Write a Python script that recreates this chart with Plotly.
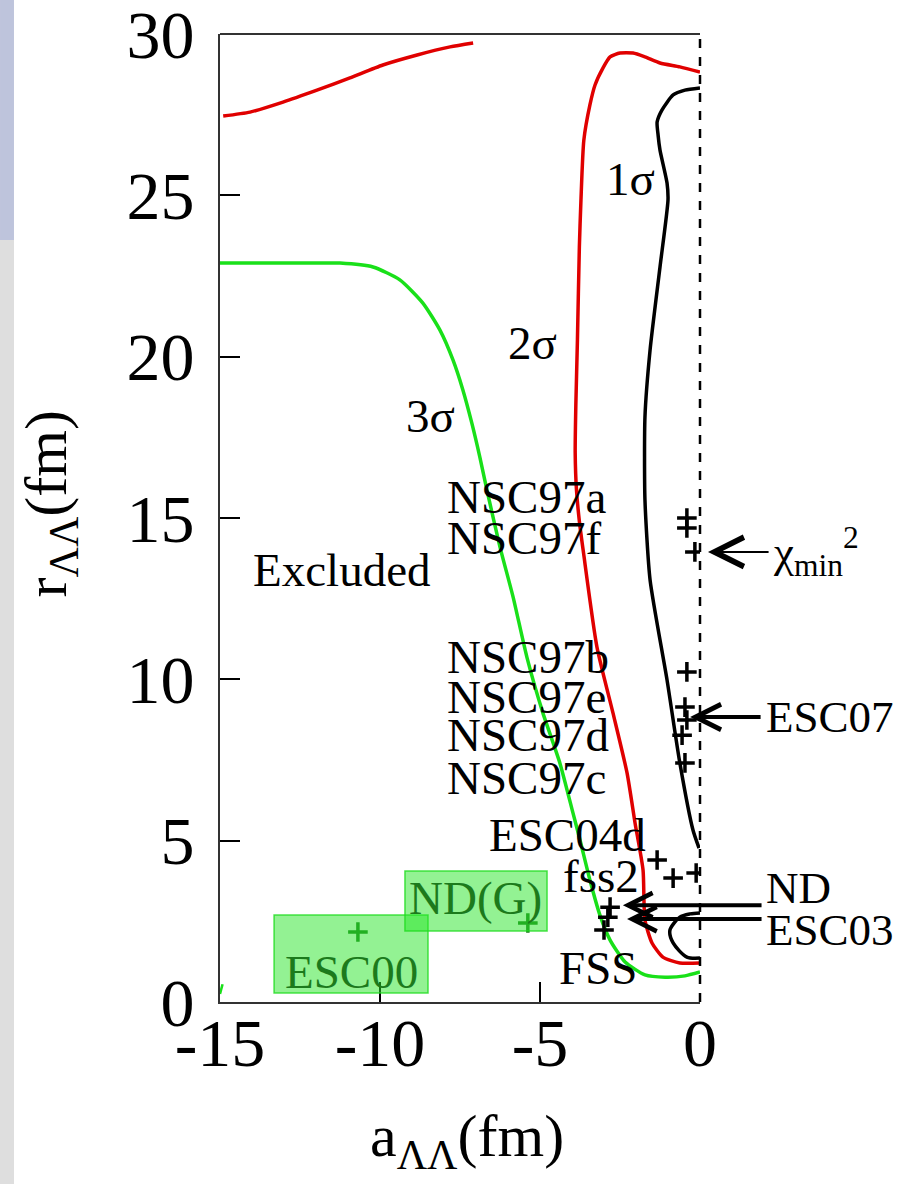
import plotly.graph_objects as go

FONT = "Liberation Serif, Times New Roman, serif"

# ---- contour lines in the (a, r) plane ----
# 3 sigma (green)
sig3_a = [-15.0, -13.75, -12.5, -11.25, -10.22, -9.38, -8.66, -8.13, -7.72, -7.41,
          -7.13, -6.88, -6.66, -6.25, -5.84, -5.41, -4.91, -4.38, -3.97, -3.75,
          -3.44, -3.13, -2.81, -2.34, -1.72, -1.09, -0.47, 0.0]
sig3_r = [22.90, 22.90, 22.90, 22.90, 22.78, 22.38, 21.66, 20.83, 19.90, 18.97,
          17.94, 16.89, 15.87, 14.10, 12.55, 10.69, 8.96, 7.41, 5.86, 5.02,
          3.78, 2.70, 1.92, 1.24, 0.84, 0.77, 0.81, 0.93]
sig3_edge_a = [-15.0, -14.92]
sig3_edge_r = [0.25, 0.55]

# 2 sigma (red)
sig2_top_a = [-14.9, -14.06, -13.03, -11.97, -10.94, -9.91, -8.84, -7.81, -7.09]
sig2_top_r = [27.46, 27.58, 27.89, 28.26, 28.64, 29.04, 29.35, 29.60, 29.72]
sig2_a = [0.0, -0.63, -1.25, -1.72, -2.09, -2.5, -2.81, -3.03, -3.28, -3.44,
          -3.63, -3.72, -3.77, -3.83, -3.88, -3.90, -3.86, -3.77, -3.64, -3.22,
          -2.72, -2.28, -2.03, -1.78, -1.72, -1.5, -1.16, -0.63, 0.0]
sig2_r = [28.82, 28.98, 29.10, 29.29, 29.41, 29.41, 29.29, 28.95, 28.42, 27.80,
          26.71, 24.86, 23.40, 20.52, 18.50, 17.00, 15.87, 14.90, 13.92, 11.00,
          8.96, 7.10, 5.55, 4.09, 2.54, 1.83, 1.39, 1.21, 1.21]

# 1 sigma (black)
sig1_a = [0.0, -0.47, -0.84, -1.19, -1.34, -1.31, -1.25, -1.03, -1.0, -1.25,
          -1.56, -1.72, -1.72, -1.56, -1.03, -0.63, -0.22, -0.03]
sig1_r = [28.33, 28.26, 28.11, 27.64, 27.27, 26.87, 26.40, 25.38, 24.86, 22.78,
          20.21, 18.13, 15.56, 13.08, 9.98, 7.41, 5.33, 4.77]
sig1_loop_a = [0.0, -0.31, -0.63, -0.94, -0.84, -0.41, 0.0]
sig1_loop_r = [2.76, 2.73, 2.63, 2.23, 1.83, 1.39, 1.36]

# ---- model predictions (a, r) ----
model_a = [-0.41, -0.41, -0.16, -0.41, -0.47, -0.41, -0.56, -0.47,
           -1.34, -0.84, -0.12, -2.81, -2.88, -3.0]
model_r = [15.00, 14.69, 13.95, 10.23, 9.14, 8.74, 8.27, 7.41,
           4.40, 3.84, 4.00, 2.94, 2.63, 2.23]
shaded_a = [-5.38, -10.69]
shaded_r = [2.45, 2.17]

# ---- text labels inside the frame ----
label_text = ["1σ", "2σ", "3σ", "NSC97a", "NSC97f", "Excluded", "NSC97b", "NSC97e",
              "NSC97d", "NSC97c", "ESC04d", "fss2", "FSS"]
label_a = [-2.16, -5.22, -8.41, -7.97, -7.97, -14.03, -7.97, -7.97,
           -7.97, -7.97, -6.66, -4.34, -4.47]
label_r = [25.5, 20.42, 18.16, 15.65, 14.38, 13.39, 10.69, 9.45,
           8.27, 6.94, 5.18, 3.90, 1.05]
label_anchor = ["center", "center", "center", "left", "left", "left", "left", "left",
                "left", "left", "left", "left", "left"]

# labels to the right of the frame
side_text = ["ND", "ESC03", "ESC07", "χ<sub>min</sub><sup>2</sup>"]
side_a = [2.0, 2.0, 2.0, 2.22]
side_r = [3.53, 2.23, 8.83, 13.95]

# shaded tags: text position and box extents
tag_text = ["ESC00", "ND(G)"]
tag_a = [-10.9, -7.03]
tag_r = [0.93, 3.22]
box_a0 = [-13.31, -9.22]
box_a1 = [-8.5, -4.78]
box_r0 = [0.28, 2.20]
box_r1 = [2.70, 4.06]

# arrows: tip (a, r) and tail a
arrow_tip_a = [0.25, -0.31, -2.41, -2.28]
arrow_tip_r = [13.95, 8.83, 3.0, 2.57]
arrow_tail_a = [2.19, 1.94, 1.97, 1.97]
arrow_width = [2, 4, 4, 4]
arrow_scale = [2.9, 1.25, 1.2, 1.2]

x_range = [-15, 0]
y_range = [0, 30]
x_ticks = [-15, -10, -5, 0]
x_ticktext = ["-15", "-10", "-5", "0"]
y_ticks = [0, 5, 10, 15, 20, 25, 30]
y_ticktext = ["0", "5", "10", "15", "20", "25", "30"]

GREEN = "#19e019"
RED = "#e00000"
DARK_GREEN = "#1c7a1c"

W, H = 897, 1184
M_L, M_R, M_T, M_B = 220, 197, 34, 182
plot_w = W - M_L - M_R


def to_paper_x(a):
    return (a - x_range[0]) / (x_range[1] - x_range[0])


fig = go.Figure()

line_w = 3.5
fig.add_trace(go.Scatter(x=sig3_a, y=sig3_r, mode="lines",
                         line=dict(color=GREEN, width=line_w, shape="spline", smoothing=0.6)))
fig.add_trace(go.Scatter(x=sig3_edge_a, y=sig3_edge_r, mode="lines",
                         line=dict(color=GREEN, width=2.5)))
fig.add_trace(go.Scatter(x=sig2_top_a, y=sig2_top_r, mode="lines",
                         line=dict(color=RED, width=line_w, shape="spline", smoothing=0.6)))
fig.add_trace(go.Scatter(x=sig2_a, y=sig2_r, mode="lines",
                         line=dict(color=RED, width=line_w, shape="spline", smoothing=0.6)))
fig.add_trace(go.Scatter(x=sig1_a, y=sig1_r, mode="lines",
                         line=dict(color="black", width=line_w, shape="spline", smoothing=0.6)))
fig.add_trace(go.Scatter(x=sig1_loop_a, y=sig1_loop_r, mode="lines",
                         line=dict(color="black", width=line_w, shape="spline", smoothing=0.8)))

fig.add_trace(go.Scatter(x=model_a, y=model_r, mode="markers",
                         marker=dict(symbol="cross-thin", size=14, color="black",
                                     line=dict(color="black", width=3.5))))
fig.add_trace(go.Scatter(x=shaded_a, y=shaded_r, mode="markers",
                         marker=dict(symbol="cross-thin", size=14, color=DARK_GREEN,
                                     line=dict(color=DARK_GREEN, width=3.5))))

shapes = []
# frame: top solid, right dashed
shapes.append(dict(type="line", xref="paper", yref="paper", x0=0, x1=1, y0=1, y1=1,
                   line=dict(color="#333333", width=2)))
shapes.append(dict(type="line", xref="paper", yref="paper", x0=1, x1=1, y0=0, y1=1,
                   line=dict(color="black", width=2.5, dash="dash")))
# highlight boxes
for a0, a1, r0, r1 in zip(box_a0, box_a1, box_r0, box_r1):
    shapes.append(dict(type="rect", xref="x", yref="y", x0=a0, x1=a1, y0=r0, y1=r1,
                       fillcolor="rgba(40,230,40,0.5)",
                       line=dict(color="rgba(30,220,30,0.8)", width=1.5), layer="above"))
# side strip of the page
shapes.append(dict(type="rect", xref="paper", yref="paper", x0=-0.4583, x1=-0.4292,
                   y0=0.7872, y1=1.0351, fillcolor="#bec4dc", line=dict(width=0)))
shapes.append(dict(type="rect", xref="paper", yref="paper", x0=-0.4583, x1=-0.4292,
                   y0=-0.19, y1=0.7872, fillcolor="#dedede", line=dict(width=0)))

annotations = []
TXT = dict(family=FONT, size=47, color="black")
SIDE = dict(family=FONT, size=45, color="black")
for t, a, r, anc in zip(label_text, label_a, label_r, label_anchor):
    annotations.append(dict(text=t, x=a, y=r, xref="x", yref="y", xanchor=anc,
                            yanchor="middle", showarrow=False, font=TXT))
for t, a, r in zip(side_text, side_a, side_r):
    annotations.append(dict(text=t, x=to_paper_x(a), y=r, xref="paper", yref="y",
                            xanchor="left", yanchor="middle", showarrow=False, font=SIDE))
for t, a, r in zip(tag_text, tag_a, tag_r):
    annotations.append(dict(text=t, x=a, y=r, xref="x", yref="y", showarrow=False,
                            xanchor="center", yanchor="middle",
                            font=dict(family=FONT, size=47, color=DARK_GREEN)))
px_per_unit = plot_w / (x_range[1] - x_range[0])
for ta, tr, ha, w, s in zip(arrow_tip_a, arrow_tip_r, arrow_tail_a, arrow_width, arrow_scale):
    annotations.append(dict(text="", x=to_paper_x(ta), y=tr, xref="paper", yref="y",
                            ax=(ha - ta) * px_per_unit, ay=0, axref="pixel", ayref="pixel",
                            showarrow=True, arrowhead=5, arrowwidth=w, arrowsize=s,
                            arrowcolor="black", standoff=0, startstandoff=0))
# axis titles
annotations.append(dict(text="a<sub>ΛΛ</sub>(fm)", x=0.515, y=-0.1426, xref="paper",
                        yref="paper", xanchor="center", yanchor="middle", showarrow=False,
                        font=dict(family=FONT, size=60, color="black")))
annotations.append(dict(text="r<sub>ΛΛ</sub>(fm)", x=-0.354, y=0.515, xref="paper",
                        yref="paper", xanchor="center", yanchor="middle", showarrow=False,
                        textangle=-90, font=dict(family=FONT, size=60, color="black")))

fig.update_layout(
    width=W, height=H,
    margin=dict(l=M_L, r=M_R, t=M_T, b=M_B),
    paper_bgcolor="white", plot_bgcolor="white",
    showlegend=False,
    shapes=shapes, annotations=annotations,
    font=dict(family=FONT, color="black"),
)
fig.update_xaxes(range=x_range, tickvals=x_ticks, ticktext=x_ticktext, automargin=False,
                 ticks="inside", ticklen=20, tickwidth=1.5, tickcolor="black",
                 showgrid=False, zeroline=False, showline=True, linecolor="#333333",
                 linewidth=2, tickfont=dict(family=FONT, size=68, color="black"),
                 ticklabeloverflow="allow", ticklabelstandoff=-20)
fig.update_yaxes(range=y_range, tickvals=y_ticks, ticktext=y_ticktext, automargin=False,
                 ticks="inside", ticklen=20, tickwidth=1.5, tickcolor="black",
                 showgrid=False, zeroline=False, showline=True, linecolor="#333333",
                 linewidth=2, tickfont=dict(family=FONT, size=68, color="black"),
                 ticklabeloverflow="allow", ticklabelstandoff=10)

fig.write_html("out.html")
